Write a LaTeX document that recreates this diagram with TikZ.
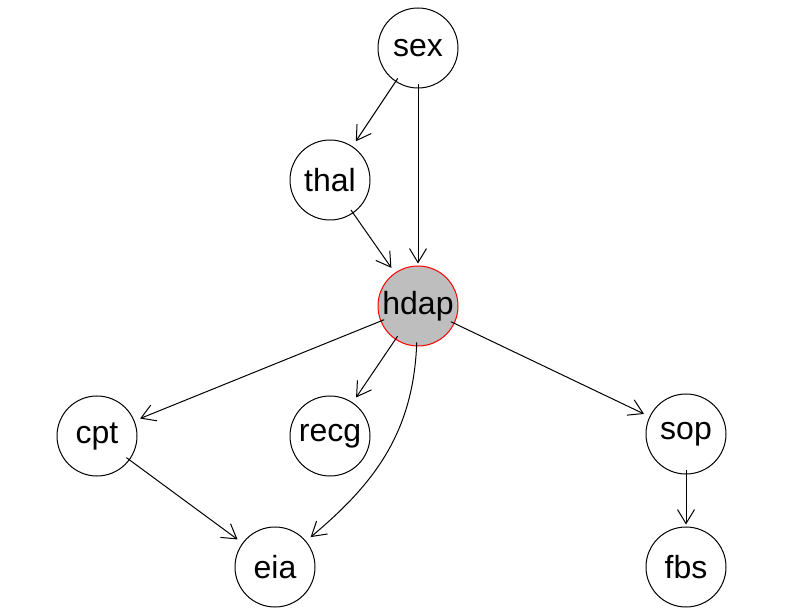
\documentclass[tikz,border=0pt]{standalone}
\usepackage{fontspec}
\setmainfont{Liberation Sans}
\usepackage{tikz}
\usetikzlibrary{arrows.meta, positioning}

\begin{document}
\begin{tikzpicture}[x=0.5pt, y=-0.5pt,
  var/.style={circle, draw, line width=0.5pt, minimum size=40pt, inner sep=0pt,
    font=\fontsize{16}{19}\selectfont},
  target/.style={var, draw=red, fill={rgb,255:red,190;green,190;blue,190}},
  link/.style={->, >={Straight Barb[length=7pt, width=8.5pt]}, line width=0.5pt,
    shorten <=-2pt, shorten >=3pt}]
\useasboundingbox (0,0) rectangle (787,614);

\node[var] (sex) at (418, 48) {sex};
\node[var] (thal) at (330, 180) {thal};
\node[target] (hdap) at (418, 306) {hdap};
\node[var] (cpt) at (97, 436) {cpt};
\node[var] (recg) at (330, 436) {recg};
\node[var] (sop) at (686, 434) {sop};
\node[var] (eia) at (275, 567) {eia};
\node[var] (fbs) at (686, 567) {fbs};

\path[link] (sex) edge (thal);
\path[link] (sex) edge[shorten >=1pt] (hdap);
\path[link] (thal) edge (hdap);
\path[link] (hdap) edge (cpt);
\path[link] (hdap) edge (recg);
\path[link] (hdap) edge[out=-92, in=40] (eia);
\path[link] (hdap) edge (sop);
\path[link] (cpt) edge (eia);
\path[link] (sop) edge[shorten >=1pt] (fbs);
%
\end{tikzpicture}
\end{document}
